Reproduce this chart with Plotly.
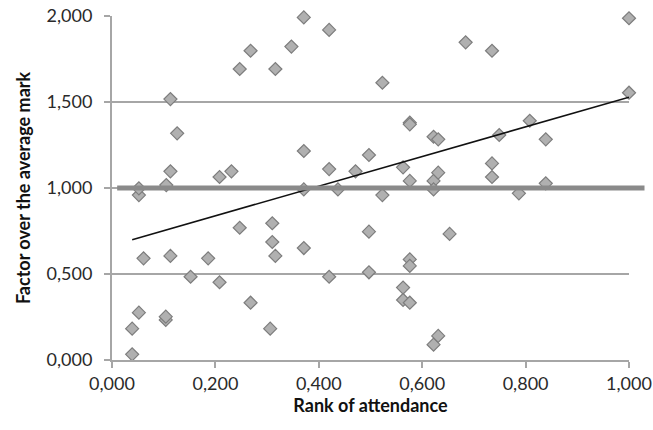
import numpy as np
import plotly.graph_objects as go

# Rank of attendance (x) and factor over the average mark (y)
rank_attendance = [
    0.039, 0.039, 0.052, 0.052, 0.052, 0.061, 0.104, 0.104, 0.105, 0.113,
    0.113, 0.113, 0.126, 0.152, 0.186, 0.208, 0.208, 0.231, 0.247, 0.247,
    0.268, 0.268, 0.306, 0.310, 0.310, 0.316, 0.316, 0.347, 0.371, 0.371,
    0.371, 0.371, 0.420, 0.420, 0.420, 0.437, 0.471, 0.497, 0.497, 0.497,
    0.523, 0.523, 0.563, 0.563, 0.563, 0.576, 0.576, 0.576, 0.576, 0.576,
    0.576, 0.622, 0.631, 0.622, 0.631, 0.622, 0.622, 0.631, 0.653, 0.684,
    0.735, 0.735, 0.735, 0.749, 0.787, 0.808, 0.839, 0.839, 1.000, 1.000,
]
factor_mark = [
    0.033, 0.182, 0.275, 0.959, 0.998, 0.591, 0.233, 0.252, 1.017, 0.605,
    1.097, 1.517, 1.318, 0.484, 0.591, 0.452, 1.064, 1.097, 0.769, 1.692,
    1.798, 0.333, 0.182, 0.795, 0.686, 0.605, 1.692, 1.822, 1.992, 1.215,
    0.992, 0.651, 1.919, 1.110, 0.484, 0.992, 1.097, 1.192, 0.746, 0.510,
    1.612, 0.959, 1.120, 0.421, 0.349, 1.380, 1.370, 1.041, 0.585, 0.547,
    0.333, 1.298, 1.283, 1.041, 1.089, 0.992, 0.089, 0.140, 0.733, 1.847,
    1.798, 1.143, 1.064, 1.308, 0.969, 1.391, 1.283, 1.027, 1.987, 1.554,
]

# Trend line as drawn in the original
TREND_INTERCEPT = 0.666
TREND_SLOPE = 0.862

x_ticks = [0.0, 0.2, 0.4, 0.6, 0.8, 1.0]
y_ticks = [0.0, 0.5, 1.0, 1.5, 2.0]
X_RANGE = [0.0, 1.0]
Y_RANGE = [0.0, 2.0]
REF_LEVEL = 1.0          # thick reference line at the average mark
REF_SPAN = [0.01, 1.03]  # horizontal extent of the reference line (paper fraction)

x = np.array(rank_attendance)
trend_x = np.array([x.min(), x.max()])
trend_y = TREND_INTERCEPT + TREND_SLOPE * trend_x

FONT = "Lato"
GRID = "#a6a6a6"
TICK_FONT = dict(family=FONT, size=18, color="#2a2a2a")
TITLE_FONT = dict(family=FONT, size=18, color="#111111")

fig = go.Figure()
fig.add_trace(go.Scatter(
    x=rank_attendance, y=factor_mark, mode="markers",
    marker=dict(symbol="diamond", size=10, color="#b0b0b0",
                line=dict(color="#7d7d7d", width=1.2)),
    cliponaxis=False, showlegend=False, hoverinfo="x+y",
))
fig.add_trace(go.Scatter(
    x=trend_x, y=trend_y, mode="lines",
    line=dict(color="#111111", width=1.6), showlegend=False,
))

ref_paper = (REF_LEVEL - Y_RANGE[0]) / (Y_RANGE[1] - Y_RANGE[0])
fig.add_shape(type="line", xref="paper", yref="paper",
              x0=REF_SPAN[0], x1=REF_SPAN[1], y0=ref_paper, y1=ref_paper,
              line=dict(color="#8a8a8a", width=5), layer="above")

fig.update_layout(
    width=653, height=430,
    margin=dict(l=112, r=24, t=16, b=70),
    paper_bgcolor="white", plot_bgcolor="white",
    separators=",.",
    font=dict(family=FONT, size=17, color="#222222"),
    showlegend=False,
)
fig.update_xaxes(
    range=X_RANGE, tickvals=x_ticks, tickformat=".3f", automargin=False,
    ticklabeloverflow="allow",
    showgrid=False, zeroline=False,
    showline=True, linecolor=GRID, linewidth=2,
    ticks="outside", ticklen=6, tickwidth=2, tickcolor=GRID,
    tickfont=TICK_FONT,
    title=dict(text="<b>Rank of attendance</b>", font=TITLE_FONT, standoff=7),
)
fig.update_yaxes(
    range=Y_RANGE, tickvals=y_ticks, tickformat=".3f", automargin=False,
    ticklabeloverflow="allow",
    showgrid=True, gridcolor=GRID, gridwidth=2, zeroline=False,
    showline=True, linecolor=GRID, linewidth=2,
    ticks="outside", ticklen=6, tickwidth=2, tickcolor=GRID,
    tickfont=TICK_FONT, ticklabelstandoff=8,
    title=dict(text="<b>Factor over the average mark</b>", font=TITLE_FONT, standoff=11),
)

fig.write_html("out.html", config={"displayModeBar": False},
               post_script="document.body.style.margin='0';")
